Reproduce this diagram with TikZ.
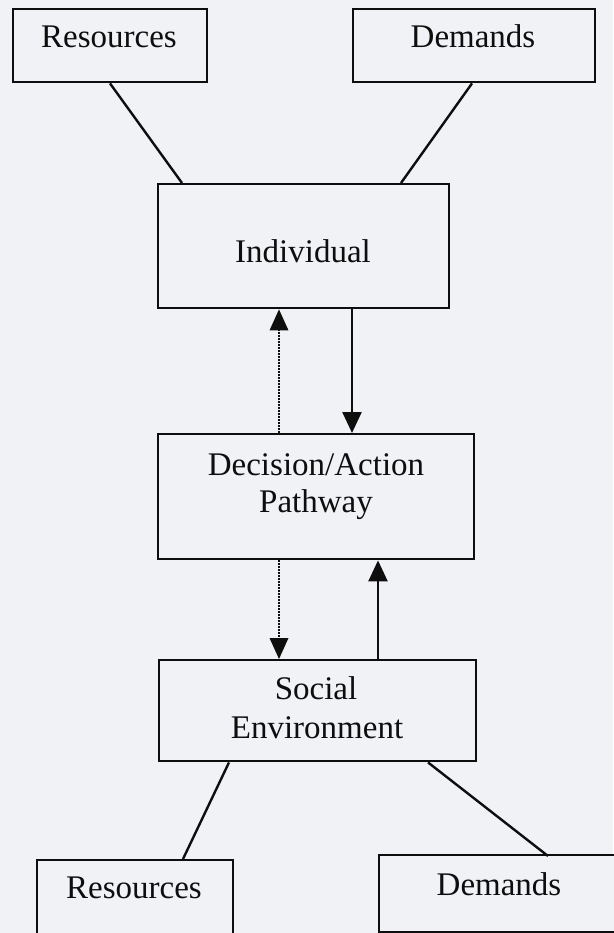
\documentclass[tikz,border=0pt]{standalone}
\usepackage{fontspec}
\setmainfont{Liberation Serif}
\usetikzlibrary{arrows.meta,calc}
\definecolor{paper}{HTML}{F1F2F6}
\definecolor{ink}{HTML}{0E0E0E}
\begin{document}
\begin{tikzpicture}[x=1pt,y=-1pt,
  box/.style={draw=ink,line width=2.4pt,fill=paper,rectangle,inner sep=0pt,anchor=north west},
  lbl/.style={text=ink,anchor=base,inner sep=0pt,font=\fontsize{33}{40}\selectfont},
  link/.style={draw=ink,line width=2.4pt},
  flow/.style={draw=ink,line width=2.4pt,-{Triangle[length=21pt,width=19pt]}},
  weak/.style={draw=ink,line width=1.8pt,dash pattern=on 1.6pt off 1.4pt,
    -{Triangle[length=21pt,width=19pt,line width=0pt]}}]
  % canvas
  \fill[paper] (0,0) rectangle (613,933);
  \useasboundingbox (0,0) rectangle (613,933);

  % boxes
  \node[box,minimum width=194pt,minimum height=73pt] (resT) at (12,8) {};
  \node[box,minimum width=242pt,minimum height=73pt] (demT) at (352,8) {};
  \node[box,minimum width=291pt,minimum height=124pt] (ind) at (157,183) {};
  \node[box,minimum width=316pt,minimum height=125pt] (dec) at (157,433) {};
  \node[box,minimum width=317pt,minimum height=101pt] (soc) at (158,659) {};
  \node[box,minimum width=196pt,minimum height=100pt] (resB) at (36,859) {};
  \node[box,minimum width=250pt,minimum height=77pt] (demB) at (378,854) {};

  % labels
  \node[lbl] (tResT) at (109,48) {Resources};
  \node[lbl] (tDemT) at (473,48) {Demands};
  \node[lbl] (tInd) at (303,262) {Individual};
  \node[lbl] (tDec1) at (316,475) {Decision/Action};
  \node[lbl] (tDec2) at (316,512) {Pathway};
  \node[lbl] (tSoc1) at (316,699) {Social};
  \node[lbl] (tSoc2) at (317,738) {Environment};
  \node[lbl] (tResB) at (134,898) {Resources};
  \node[lbl] (tDemB) at (499,895) {Demands};

  % attachment points on the box edges
  \coordinate (pResT) at ($(resT.south west)+(98,0)$);
  \coordinate (pIndL) at ($(ind.north west)+(25,0)$);
  \coordinate (pDemT) at ($(demT.south west)+(120,0)$);
  \coordinate (pIndR) at ($(ind.north west)+(244,0)$);
  \coordinate (pDot) at ($(dec.north west)+(122,0)$);
  \coordinate (pDown) at ($(ind.south west)+(195,0)$);
  \coordinate (pUp) at ($(soc.north west)+(220,0)$);
  \coordinate (pSocL) at ($(soc.south west)+(71,0)$);
  \coordinate (pResB) at ($(resB.north west)+(147,0)$);
  \coordinate (pSocR) at ($(soc.south west)+(270,0)$);
  \coordinate (pDemB) at ($(demB.north west)+(170,2)$);

  % connectors
  \draw[link] (pResT) -- (pIndL);
  \draw[link] (pDemT) -- (pIndR);
  \draw[link] (pSocL) -- (pResB);
  \draw[link] (pSocR) -- (pDemB);

  % arrows between the stages
  \draw[weak] (pDot) -- (pDot |- ind.south);
  \draw[flow] (pDown) -- (pDown |- dec.north);
  \draw[weak] (pDot |- dec.south) -- (pDot |- soc.north);
  \draw[flow] (pUp) -- (pUp |- dec.south);
\end{tikzpicture}
\end{document}
